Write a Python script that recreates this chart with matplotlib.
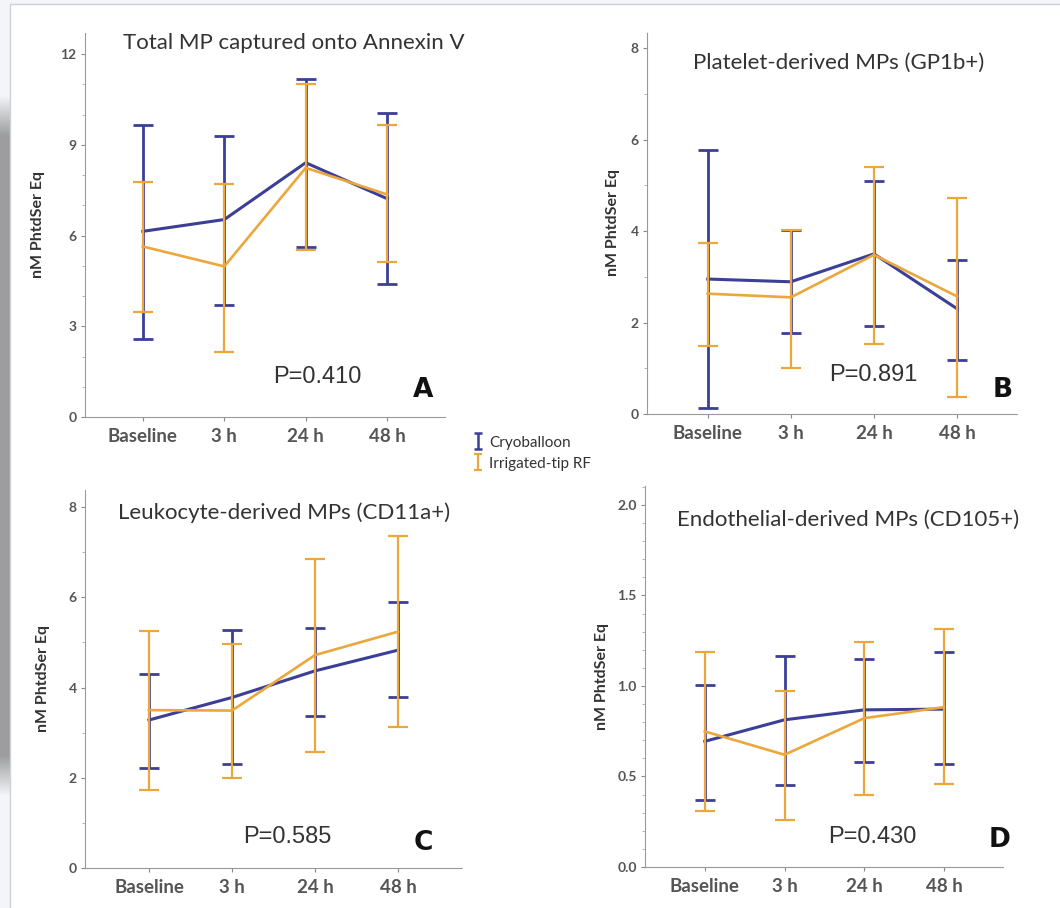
import numpy as np
import matplotlib
matplotlib.use("Agg")
from matplotlib import pyplot as plt
from matplotlib.lines import Line2D
from matplotlib.patches import Rectangle
from matplotlib.path import Path
from matplotlib.ticker import MultipleLocator

plt.rcParams['font.family'] = ['Lato', 'DejaVu Sans']

times = ['Baseline', '3 h', '24 h', '48 h']

# A - total MP captured onto Annexin V
a_cryo = [6.14, 6.53, 8.41, 7.22]
a_cryo_lo = [2.57, 3.71, 5.62, 4.39]
a_cryo_hi = [9.66, 9.31, 11.19, 10.04]
a_rf = [5.64, 4.98, 8.24, 7.36]
a_rf_lo = [3.46, 2.16, 5.53, 5.14]
a_rf_hi = [7.78, 7.69, 11.00, 9.65]

# B - platelet-derived
b_cryo = [2.95, 2.89, 3.50, 2.30]
b_cryo_lo = [0.13, 1.76, 1.92, 1.19]
b_cryo_hi = [5.78, 4.03, 5.09, 3.36]
b_rf = [2.63, 2.55, 3.48, 2.57]
b_rf_lo = [1.49, 1.01, 1.53, 0.37]
b_rf_hi = [3.74, 4.03, 5.41, 4.72]

# C - leukocyte-derived
c_cryo = [3.28, 3.78, 4.37, 4.83]
c_cryo_lo = [2.21, 2.31, 3.38, 3.78]
c_cryo_hi = [4.31, 5.27, 5.31, 5.90]
c_rf = [3.50, 3.49, 4.72, 5.24]
c_rf_lo = [1.73, 1.99, 2.58, 3.13]
c_rf_hi = [5.26, 4.96, 6.86, 7.37]

# D - endothelial-derived
d_cryo = [0.694, 0.813, 0.868, 0.872]
d_cryo_lo = [0.372, 0.454, 0.578, 0.569]
d_cryo_hi = [1.006, 1.168, 1.150, 1.185]
d_rf = [0.749, 0.620, 0.822, 0.883]
d_rf_lo = [0.307, 0.261, 0.399, 0.460]
d_rf_hi = [1.187, 0.970, 1.242, 1.316]

titles = ['Total MP captured onto Annexin V', 'Platelet-derived MPs (GP1b+)',
          'Leukocyte-derived MPs (CD11a+)', 'Endothelial-derived MPs (CD105+)']
p_values = ['P=0.410', 'P=0.891', 'P=0.585', 'P=0.430']
letters = ['A', 'B', 'C', 'D']
y_ticks = [[0, 3, 6, 9, 12], [0, 2, 4, 6, 8], [0, 2, 4, 6, 8], [0.0, 0.5, 1.0, 1.5, 2.0]]
y_tick_labels = [['0', '3', '6', '9', '12'], ['0', '2', '4', '6', '8'],
                 ['0', '2', '4', '6', '8'], ['0.0', '0.5', '1.0', '1.5', '2.0']]

BLUE = '#3b3f96'
ORANGE = '#eba73c'
GREY = '#555555'

fig = plt.figure(figsize=(10.6, 9.08), dpi=100)
fig.patch.set_facecolor('#f3f5f8')

# background frame + left shadow
bg = fig.add_axes([0, 0, 1, 1], zorder=-5)
bg.set_xlim(0, 1060)
bg.set_ylim(908, 0)
bg.axis('off')
bg.add_patch(Rectangle((10, 4), 1060, 920, facecolor='white', edgecolor='#cdd2d8', lw=1))
gx = np.clip((58 - np.arange(0, 60)) / 25.0, 0, 1)
gy = np.clip(np.minimum(np.arange(0, 700), 700 - np.arange(0, 700)) / 40.0, 0, 1)
shade = np.outer(gy, gx)
rgba = np.zeros((700, 60, 4))
rgba[..., :3] = 0.58
rgba[..., 3] = shade * 0.9
bg.imshow(rgba, extent=(0, 60, 795, 95), aspect='auto', interpolation='bilinear')

# panel geometry (left, bottom, width, height), xlim, ylim top, minor step
panels = [
    ([85 / 1060, 1 - 417 / 908, 360 / 1060, 384 / 908], (-0.71, 3.71), 12.7, 1.0),
    ([647 / 1060, 1 - 414 / 908, 370 / 1060, 382 / 908], (-0.73, 3.72), 8.35, 1.0),
    ([85 / 1060, 1 - 868 / 908, 377 / 1060, 378 / 908], (-0.77, 3.77), 8.38, 1.0),
    ([645 / 1060, 1 - 867 / 908, 358 / 1060, 382 / 908], (-0.75, 3.74), 2.11, 0.1),
]
data = [
    (a_cryo, a_cryo_lo, a_cryo_hi, a_rf, a_rf_lo, a_rf_hi),
    (b_cryo, b_cryo_lo, b_cryo_hi, b_rf, b_rf_lo, b_rf_hi),
    (c_cryo, c_cryo_lo, c_cryo_hi, c_rf, c_rf_lo, c_rf_hi),
    (d_cryo, d_cryo_lo, d_cryo_hi, d_rf, d_rf_lo, d_rf_hi),
]
title_pos = [(0.106, 0.974), (0.124, 0.919), (0.088, 0.939), (0.089, 0.908)]
p_pos = [(0.644, 0.104), (0.611, 0.102), (0.536, 0.082), (0.634, 0.079)]
letter_pos = [(0.939, 0.07), (0.962, 0.063), (0.897, 0.066), (0.99, 0.071)]
ylabel_x = [-0.111, -0.073, -0.093, -0.10]

x = np.arange(len(times))
for i, (rect, xlim, ytop, minor) in enumerate(panels):
    ax = fig.add_axes(rect)
    ax.set_facecolor('none')
    cm, clo, chi, rm, rlo, rhi = [np.array(v) for v in data[i]]

    ax.errorbar(x, cm, yerr=[cm - clo, chi - cm], color=BLUE, lw=2.2,
                elinewidth=2.0, capsize=7, capthick=2.0, zorder=3)
    ax.errorbar(x, rm, yerr=[rm - rlo, rhi - rm], color=ORANGE, lw=1.9,
                elinewidth=1.6, capsize=7, capthick=1.6, zorder=4)

    ax.set_xlim(*xlim)
    ax.set_ylim(0, ytop)
    ax.set_xticks(x)
    ax.set_xticklabels(times, fontsize=13.5, fontweight='bold', color=GREY)
    ax.set_yticks(y_ticks[i])
    ax.set_yticklabels(y_tick_labels[i], fontsize=10, fontweight='bold', color=GREY)
    ax.yaxis.set_minor_locator(MultipleLocator(minor))
    ax.tick_params(axis='both', which='major', length=3, width=0.8, color='#888888', pad=3)
    ax.tick_params(axis='y', which='minor', length=2, width=0.6, color='#aaaaaa')
    ax.tick_params(axis='x', pad=5)

    for s in ['top', 'right']:
        ax.spines[s].set_visible(False)
    for s in ['left', 'bottom']:
        ax.spines[s].set_color('#999999')
        ax.spines[s].set_linewidth(0.8)
        ax.spines[s].set_linestyle((0, (3, 1)))

    ax.set_ylabel('nM PhtdSer Eq', fontsize=11.5, fontweight='bold', color='#333333')
    ax.yaxis.set_label_coords(ylabel_x[i], 0.5)

    ax.text(title_pos[i][0], title_pos[i][1], titles[i], transform=ax.transAxes,
            fontsize=16, color='#333333', ha='left', va='center')
    ax.text(p_pos[i][0], p_pos[i][1], p_values[i], transform=ax.transAxes,
            fontsize=17, color='#333333', ha='center', va='center',
            family=['Liberation Sans', 'DejaVu Sans'])
    ax.text(letter_pos[i][0], letter_pos[i][1], letters[i], transform=ax.transAxes,
            fontsize=19, fontweight='bold', color='#111111', ha='center', va='center',
            family=['DejaVu Sans'], clip_on=False)

# little "I" glyph with caps for the legend
i_beam = Path([(-0.5, 1), (0.5, 1), (0, 1), (0, -1), (-0.5, -1), (0.5, -1)],
              [Path.MOVETO, Path.LINETO, Path.MOVETO, Path.LINETO, Path.MOVETO, Path.LINETO])
handles = [
    Line2D([], [], color=BLUE, marker=i_beam, linestyle='none', markersize=11,
           markerfacecolor='none', markeredgewidth=1.8),
    Line2D([], [], color=ORANGE, marker=i_beam, linestyle='none', markersize=11,
           markerfacecolor='none', markeredgewidth=1.6),
]
fig.legend(handles, ['Cryoballoon', 'Irrigated-tip RF'], loc='upper left',
           bbox_to_anchor=(466 / 1060, 1 - 428 / 908), frameon=False, fontsize=11,
           handlelength=0.6, handletextpad=0.4, labelspacing=0.45, borderpad=0)
for t in fig.legends[0].get_texts():
    t.set_color('#333333')

fig.savefig('out.png', dpi=100)
